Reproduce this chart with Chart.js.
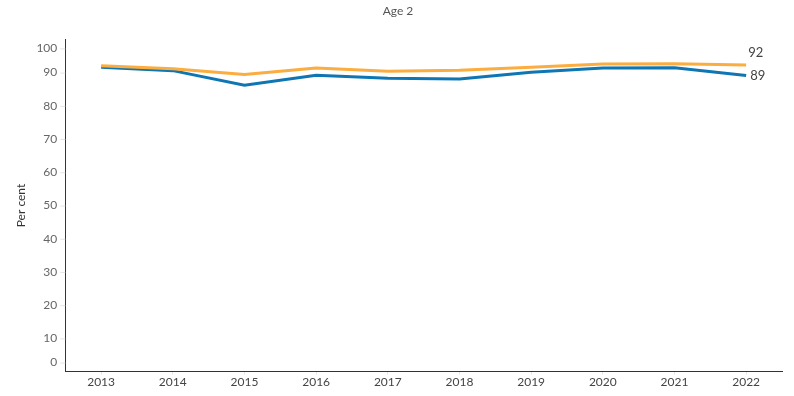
<!DOCTYPE html>
<html>
<head>
<meta charset="utf-8">
<script src="https://cdn.jsdelivr.net/npm/chart.js@4.4.0/dist/chart.umd.min.js"></script>
<style>
  html, body { margin: 0; padding: 0; background: #fff; }
  #wrap { width: 794px; height: 396px; }
</style>
</head>
<body>
<div id="wrap"><canvas id="chart"></canvas></div>
<script>
const years = ['2013', '2014', '2015', '2016', '2017', '2018', '2019', '2020', '2021', '2022'];
const orangeValues = [92.1, 91.2, 89.4, 91.4, 90.4, 90.7, 91.6, 92.6, 92.7, 92.3];
const blueValues = [91.6, 90.6, 86.2, 89.2, 88.3, 88.1, 90.1, 91.4, 91.5, 89.1];
const endLabels = ['92', '89'];
const yTicks = [0, 10, 20, 30, 40, 50, 60, 70, 80, 90, 100];

const FONT = 'Lato, "Open Sans", sans-serif';

// y labels are drawn by hand so 0 and 100 can be nudged inside the pane
const yLabelPlugin = {
  id: 'yLabels',
  afterDraw(chart) {
    const ctx = chart.ctx;
    const y = chart.scales.y;
    ctx.save();
    ctx.font = '12px ' + FONT;
    ctx.fillStyle = '#666';
    ctx.textAlign = 'right';
    ctx.textBaseline = 'middle';
    yTicks.forEach((t) => {
      let py = y.getPixelForValue(t);
      if (t === 100) py += 9;
      if (t === 0) py -= 9;
      ctx.fillText(String(t), y.right - 8, py);
      ctx.strokeStyle = '#e4e4e4';
      ctx.beginPath();
      ctx.moveTo(y.right - 5, py + 0.5);
      ctx.lineTo(y.right, py + 0.5);
      ctx.stroke();
    });
    ctx.restore();
  },
};

// end-of-line value labels
const endLabelPlugin = {
  id: 'endLabels',
  afterDatasetsDraw(chart) {
    const ctx = chart.ctx;
    ctx.save();
    ctx.font = '13px ' + FONT;
    ctx.fillStyle = '#444';
    ctx.textBaseline = 'middle';
    ctx.textAlign = 'left';
    const last = years.length - 1;
    const pOrange = chart.getDatasetMeta(0).data[last];
    const pBlue = chart.getDatasetMeta(1).data[last];
    ctx.fillText(endLabels[0], pOrange.x + 2, pOrange.y - 12);
    ctx.fillText(endLabels[1], pBlue.x + 4, pBlue.y);
    ctx.restore();
  },
};

new Chart(document.getElementById('chart'), {
  type: 'line',
  data: {
    labels: years,
    datasets: [
      {
        data: orangeValues,
        borderColor: '#FCAD3F',
        borderWidth: 3,
        pointRadius: 0,
        tension: 0,
      },
      {
        data: blueValues,
        borderColor: '#0F76B4',
        borderWidth: 3,
        pointRadius: 0,
        tension: 0,
      },
    ],
  },
  options: {
    responsive: true,
    maintainAspectRatio: false,
    animation: false,
    layout: { padding: { top: 0, right: 12, bottom: 7, left: 14 } },
    plugins: {
      legend: { display: false },
      tooltip: { enabled: false },
      title: {
        display: true,
        text: 'Age 2',
        color: '#555',
        font: { family: FONT, size: 12, weight: 'normal' },
        padding: { top: 4, bottom: 21 },
      },
    },
    scales: {
      x: {
        offset: true,
        grid: {
          drawOnChartArea: false,
          color: '#e8e8e8',
          tickLength: 3,
        },
        border: { color: '#333', width: 1 },
        ticks: {
          color: '#444',
          font: { family: FONT, size: 12 },
          padding: 0,
          maxRotation: 0,
        },
      },
      y: {
        min: 0,
        max: 100,
        grid: { display: false },
        border: { color: '#333', width: 1 },
        ticks: {
          stepSize: 10,
          color: 'rgba(0,0,0,0)',
          font: { family: FONT, size: 12 },
          padding: 4,
        },
        title: {
          display: true,
          text: 'Per cent',
          color: '#333',
          font: { family: FONT, size: 12 },
          padding: { top: 0, bottom: 0 },
        },
      },
    },
  },
  plugins: [yLabelPlugin, endLabelPlugin],
});
</script>
</body>
</html>
